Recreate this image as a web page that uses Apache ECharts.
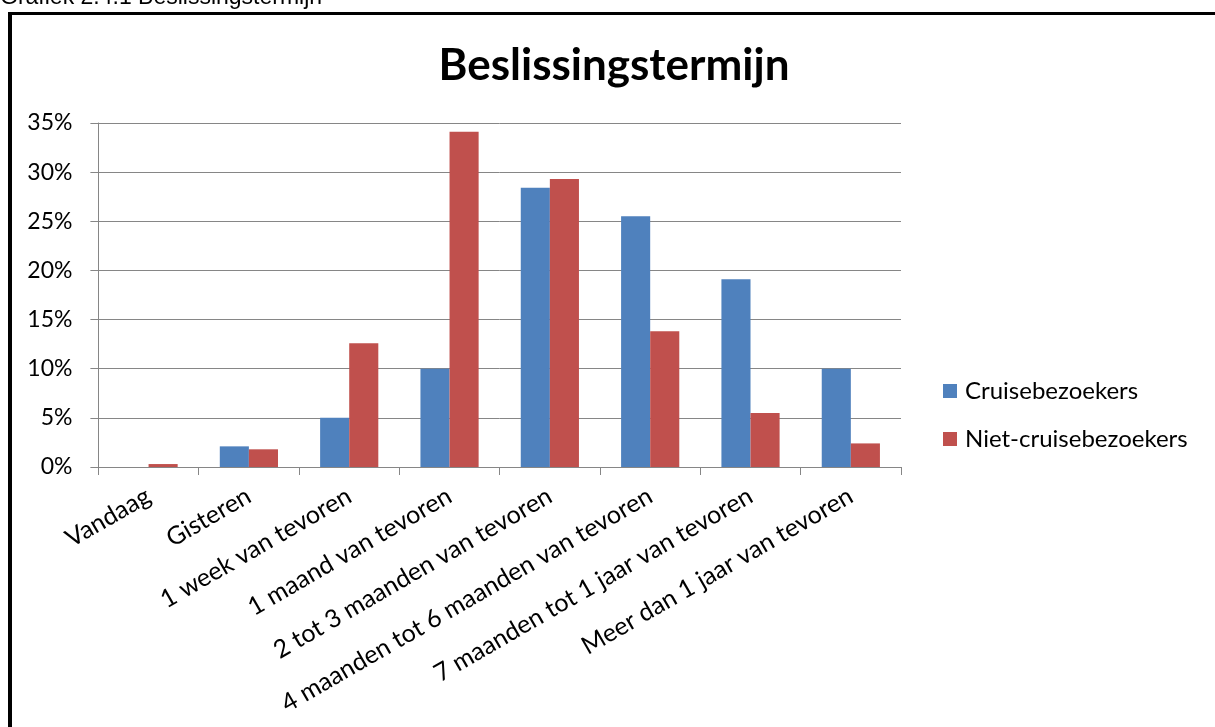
<!DOCTYPE html>
<html>
<head>
<meta charset="utf-8">
<script src="https://cdn.jsdelivr.net/npm/echarts@6/dist/echarts.min.js"></script>
<style>
html,body{margin:0;padding:0;background:#fff;}
#c{width:1215px;height:727px;}
</style>
</head>
<body>
<div id="c"></div>
<script>
var categories = ["Vandaag", "Gisteren", "1 week van tevoren", "1 maand van tevoren", "2 tot 3 maanden van tevoren", "4 maanden tot 6 maanden van tevoren", "7 maanden tot 1 jaar van tevoren", "Meer dan 1 jaar van tevoren"];
var cruise = [0, 2.1, 5.0, 10.0, 28.4, 25.5, 19.1, 10.0];
var nietCruise = [0.3, 1.8, 12.6, 34.1, 29.3, 13.8, 5.5, 2.4];
var yTicks = [0, 5, 10, 15, 20, 25, 30, 35];

var chart = echarts.init(document.getElementById('c'), null, {renderer: 'canvas'});
var font = 'Lato, "Open Sans", sans-serif';
var grey = '#868686';
chart.setOption({
  animation: false,
  backgroundColor: '#fff',
  title: {
    text: 'Beslissingstermijn',
    left: 609, textAlign: 'center',
    top: 39,
    textStyle: {fontFamily: font, fontWeight: 'bold', fontSize: 44, color: '#000'}
  },
  graphic: [
    {type: 'text', left: 0, top: -14, style: {text: 'Grafiek 2.4.1 Beslissingstermijn', font: '23px "Liberation Sans", Arial, sans-serif', fill: '#000'}},
    {type: 'line', shape: {x1: 10, y1: 12, x2: 10, y2: 727}, style: {stroke: '#000', lineWidth: 4}},
    {type: 'line', shape: {x1: 8, y1: 13.5, x2: 1215, y2: 13.5}, style: {stroke: '#000', lineWidth: 3}}
  ],
  legend: {
    orient: 'vertical',
    left: 938, top: 374,
    itemWidth: 14, itemHeight: 14, itemGap: 24,
    icon: 'rect',
    textStyle: {fontFamily: font, fontSize: 24, color: '#000', padding: [0,0,0,3]},
    data: ['Cruisebezoekers', 'Niet-cruisebezoekers']
  },
  grid: {left: 98.4, right: 314, top: 123, bottom: 260, containLabel: false},
  xAxis: {
    type: 'category',
    data: categories,
    axisLine: {lineStyle: {color: grey, width: 1}},
    axisTick: {show: true, length: 8, lineStyle: {color: grey}, alignWithLabel: false},
    axisLabel: {rotate: 30, margin: 27, interval: 0, fontFamily: font, fontSize: 25, color: '#000'}
  },
  yAxis: {
    type: 'value',
    min: 0, max: 35, interval: 5,
    axisLine: {show: true, lineStyle: {color: grey, width: 1}},
    axisTick: {show: true, length: 8, lineStyle: {color: grey}},
    splitLine: {lineStyle: {color: grey, width: 1}},
    axisLabel: {margin: 26, fontFamily: font, fontSize: 23, color: '#000', formatter: function(v){ return yTicks.indexOf(v) >= 0 ? v + '%' : ''; }}
  },
  series: [
    {name: 'Cruisebezoekers', type: 'bar', data: cruise, barGap: '0%', barCategoryGap: '42%', itemStyle: {color: '#4F81BD'}},
    {name: 'Niet-cruisebezoekers', type: 'bar', data: nietCruise, barGap: '0%', barCategoryGap: '42%', itemStyle: {color: '#C0504D'}}
  ]
});
</script>
</body>
</html>
